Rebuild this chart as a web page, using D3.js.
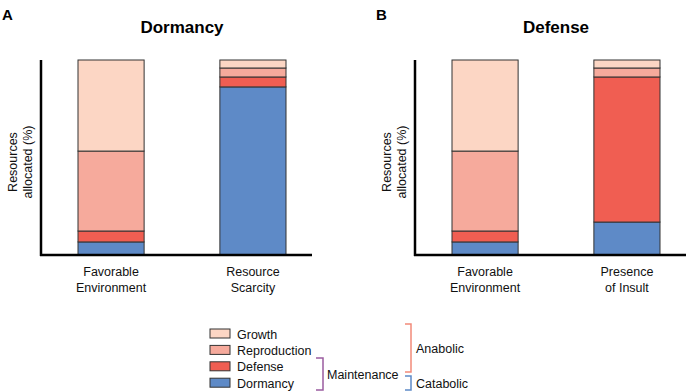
<!DOCTYPE html>
<html>
<head>
<meta charset="utf-8">
<script src="https://cdn.jsdelivr.net/npm/d3@7"></script>
<style>
  body { margin: 0; background: #fff; }
  svg { display: block; font-family: "Liberation Sans", Arial, Helvetica, sans-serif; }
</style>
</head>
<body>
<div id="chart"></div>
<script>
// Données (en % des ressources)
const layerKeys = ["Dormancy", "Defense", "Reproduction", "Growth"]; // bas -> haut
const legendKeys = ["Growth", "Reproduction", "Defense", "Dormancy"];
const panelLetters = ["A", "B"];
const panelTitles = ["Dormancy", "Defense"];
const conditionsA = ["Favorable\nEnvironment", "Resource\nScarcity"];
const conditionsB = ["Favorable\nEnvironment", "Presence\nof Insult"];

const growthA = [46.7, 4.1];
const reproductionA = [41.0, 4.6];
const defenseA = [5.6, 5.1];
const dormancyA = [6.7, 86.2];

const growthB = [46.7, 4.1];
const reproductionB = [41.0, 4.6];
const defenseB = [5.6, 74.4];
const dormancyB = [6.7, 16.9];

const colors = {
    Growth: "#fcd6c4",
    Reproduction: "#f6aa9c",
    Defense: "#f05e52",
    Dormancy: "#5e8ac7"
};

const FS = "12.5px";
const W = 697, H = 392;
const svg = d3.select("#chart").append("svg")
    .attr("width", W).attr("height", H);

function makeRows(cats, g, r, de, dm) {
    return cats.map((c, i) => ({
        cond: c, Growth: g[i], Reproduction: r[i], Defense: de[i], Dormancy: dm[i]
    }));
}

const panels = [
    {rows: makeRows(conditionsA, growthA, reproductionA, defenseA, dormancyA), dx: 0},
    {rows: makeRows(conditionsB, growthB, reproductionB, defenseB, dormancyB), dx: 374}
];

const y = d3.scaleLinear().domain([0, 100]).range([255, 60]);

panels.forEach((p, pi) => {
    const g = svg.append("g").attr("transform", `translate(${p.dx},0)`);

    const x = d3.scaleBand()
        .domain(p.rows.map(d => d.cond))
        .range([78, 286])
        .paddingInner(0.534);

    // Barres empilées
    const stack = d3.stack().keys(layerKeys)(p.rows);
    g.selectAll(".layer")
        .data(stack)
        .join("g")
        .attr("class", "layer")
        .attr("fill", d => colors[d.key])
        .selectAll("rect")
        .data(d => d)
        .join("rect")
        .attr("x", d => x(d.data.cond))
        .attr("y", d => y(d[1]))
        .attr("width", x.bandwidth())
        .attr("height", d => y(d[0]) - y(d[1]))
        .attr("stroke", "#333")
        .attr("stroke-width", 1);

    // Axes (lignes simples, sans graduations)
    g.append("line")
        .attr("x1", 41).attr("x2", 41)
        .attr("y1", y(100)).attr("y2", y(0) + 1)
        .attr("stroke", "#000").attr("stroke-width", 2.5);
    g.append("line")
        .attr("x1", 40).attr("x2", 312)
        .attr("y1", y(0)).attr("y2", y(0))
        .attr("stroke", "#000").attr("stroke-width", 2.5);

    // Libellés des conditions
    p.rows.forEach(d => {
        const t = g.append("text")
            .attr("x", x(d.cond) + x.bandwidth() / 2)
            .attr("y", 276)
            .attr("text-anchor", "middle")
            .attr("font-size", FS)
            .attr("fill", "#111");
        d.cond.split("\n").forEach((line, li) => {
            t.append("tspan")
                .attr("x", x(d.cond) + x.bandwidth() / 2)
                .attr("dy", li === 0 ? 0 : 16)
                .text(line);
        });
    });

    // Titre d'axe Y
    const yl = g.append("text")
        .attr("transform", "translate(17,162) rotate(-90)")
        .attr("text-anchor", "middle")
        .attr("font-size", FS)
        .attr("fill", "#111");
    yl.append("tspan").attr("x", 0).attr("dy", 0).text("Resources");
    yl.append("tspan").attr("x", 0).attr("dy", 15).text("allocated (%)");

    // Titre et lettre du panneau
    g.append("text")
        .attr("x", 182).attr("y", 33)
        .attr("text-anchor", "middle")
        .attr("font-size", "17px")
        .attr("font-weight", "bold")
        .text(panelTitles[pi]);
    g.append("text")
        .attr("x", 2).attr("y", 20)
        .attr("font-size", "15px")
        .attr("font-weight", "bold")
        .text(panelLetters[pi]);
});

// Légende
const legend = svg.append("g").attr("transform", "translate(210,329)");
legendKeys.forEach((k, i) => {
    const lg = legend.append("g").attr("transform", `translate(0,${i * 16.4})`);
    lg.append("rect")
        .attr("width", 20).attr("height", 9)
        .attr("fill", colors[k])
        .attr("stroke", "#333").attr("stroke-width", 1);
    lg.append("text")
        .attr("x", 27).attr("y", 9.5)
        .attr("font-size", FS)
        .attr("fill", "#111")
        .text(k);
});

// Crochets des groupes
function bracket(x0, x1, y0, y1, color) {
    svg.append("path")
        .attr("d", `M${x0},${y0}H${x1}V${y1}H${x0}`)
        .attr("fill", "none")
        .attr("stroke", color)
        .attr("stroke-width", 1.5);
}
bracket(316, 323, 358, 390, "#9b5ca0");
bracket(405, 411, 324, 372, "#f28a7a");
bracket(405, 411, 376, 390, "#5e8ac7");

svg.append("text").attr("x", 327).attr("y", 379)
    .attr("font-size", FS).attr("fill", "#111").text("Maintenance");
svg.append("text").attr("x", 416).attr("y", 353)
    .attr("font-size", FS).attr("fill", "#111").text("Anabolic");
svg.append("text").attr("x", 416).attr("y", 388)
    .attr("font-size", FS).attr("fill", "#111").text("Catabolic");
</script>
</body>
</html>
